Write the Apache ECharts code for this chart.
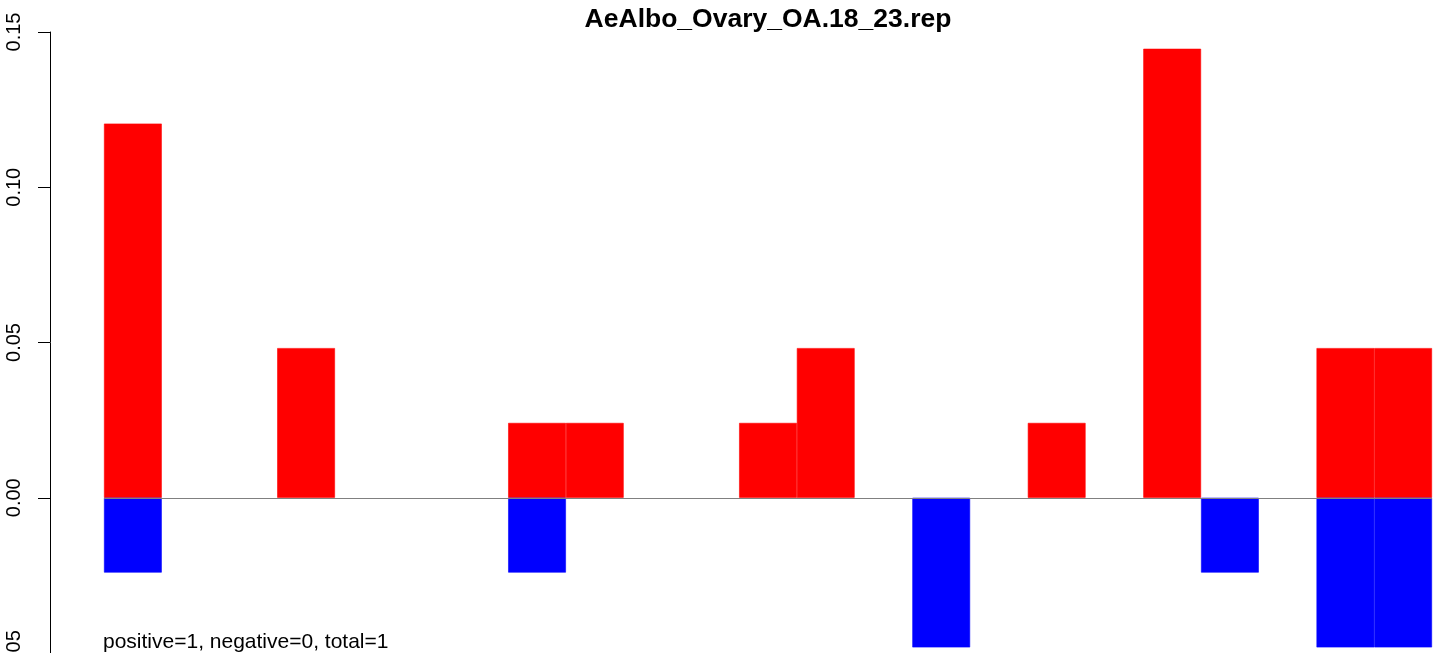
<!DOCTYPE html>
<html>
<head>
<meta charset="utf-8">
<script src="https://cdn.jsdelivr.net/npm/echarts@6/dist/echarts.min.js"></script>
<style>
html,body{margin:0;padding:0;background:#fff;}
#chart{width:1441px;height:653px;}
</style>
</head>
<body>
<div id="chart"></div>
<script>
const titleText = 'AeAlbo_Ovary_OA.18_23.rep';
const noteText = 'positive=1, negative=0, total=1';
const categories = ['1','2','3','4','5','6','7','8','9','10','11','12','13','14','15','16','17','18','19','20','21','22','23'];
const positiveValues = [0.1205, null, null, 0.0482, null, null, null, 0.0241, 0.0241, null, null, 0.0241, 0.0482, null, null, null, 0.0241, null, 0.1446, null, null, 0.0482, 0.0482];
const negativeValues = [-0.0241, null, null, null, null, null, null, -0.0241, null, null, null, null, null, null, -0.0482, null, null, null, null, -0.0241, null, -0.0482, -0.0482];
const yTicks = [-0.05, 0, 0.05, 0.10, 0.15];

const chart = echarts.init(document.getElementById('chart'), null, {renderer: 'canvas'});
const FONT = '"Liberation Sans", Arial, Helvetica, sans-serif';
chart.setOption({
  animation: false,
  backgroundColor: '#ffffff',
  title: [
    {
      text: titleText,
      left: 768,
      top: 6,
      padding: 0,
      textAlign: 'center',
      textStyle: {fontFamily: FONT, fontSize: 26.5, fontWeight: 'bold', color: '#000'}
    },
    {
      text: noteText,
      left: 103,
      top: 632,
      padding: 0,
      textStyle: {fontFamily: FONT, fontSize: 21, fontWeight: 'normal', color: '#000'}
    }
  ],
  grid: {left: 104, right: 9, top: 32, bottom: 0, containLabel: false, outerBoundsMode: 'none'},
  xAxis: {
    type: 'category',
    data: categories,
    show: false,
    boundaryGap: true
  },
  yAxis: {
    type: 'value',
    min: yTicks[0],
    max: yTicks[yTicks.length - 1],
    interval: 0.05,
    offset: 54,
    axisLine: {show: true, lineStyle: {color: '#000', width: 1}},
    axisTick: {show: true, length: 12, lineStyle: {color: '#000', width: 1}},
    splitLine: {show: false},
    axisLabel: {
      rotate: 90,
      margin: 26,
      fontFamily: FONT,
      fontSize: 20,
      color: '#000',
      formatter: v => v.toFixed(2)
    }
  },
  series: [
    {
      name: 'positive',
      type: 'bar',
      data: positiveValues,
      barWidth: '100%',
      barGap: '-100%',
      itemStyle: {color: '#ff0000', borderColor: '#ff0000', borderWidth: 0.6},
      z: 3
    },
    {
      name: 'negative',
      type: 'bar',
      data: negativeValues,
      barWidth: '100%',
      barGap: '-100%',
      itemStyle: {color: '#0000ff', borderColor: '#0000ff', borderWidth: 0.6},
      z: 3,
      markLine: {
        silent: true,
        symbol: 'none',
        label: {show: false},
        lineStyle: {color: '#808080', width: 1, type: 'solid'},
        data: [{yAxis: 0}]
      }
    }
  ]
});
</script>
</body>
</html>
